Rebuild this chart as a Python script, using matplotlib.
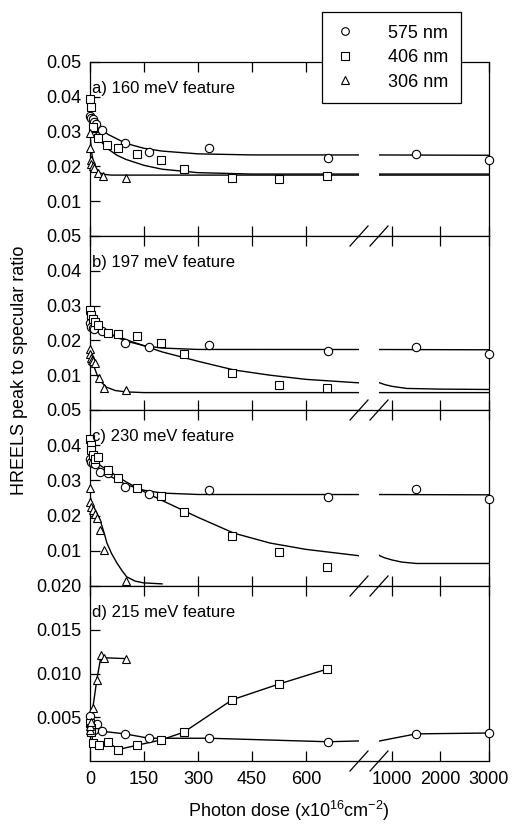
import matplotlib
matplotlib.use('Agg')
import matplotlib.pyplot as plt
from matplotlib.lines import Line2D
from matplotlib.ticker import FormatStrFormatter

plt.rcParams['font.family'] = ['Liberation Sans', 'DejaVu Sans']
plt.rcParams['mathtext.default'] = 'regular'

# ---------------- data ----------------
panel_titles = ['a) 160 meV feature', 'b) 197 meV feature',
                'c) 230 meV feature', 'd) 215 meV feature']
series_names = ['575 nm', '406 nm', '306 nm']
series_markers = ['o', 's', '^']

# a) 160 meV
a_575_x = [0, 4, 8, 12, 16, 33, 97, 164, 331, 661, 1495, 3000]
a_575_y = [0.0345, 0.0338, 0.0335, 0.0328, 0.0322, 0.0305, 0.0267, 0.0242, 0.0254, 0.0224, 0.0236, 0.0218]
a_406_x = [0, 2, 8, 22, 48, 77, 130, 197, 261, 395, 525, 658]
a_406_y = [0.0394, 0.0370, 0.0312, 0.0281, 0.0262, 0.0252, 0.0236, 0.0218, 0.0192, 0.0166, 0.0164, 0.0172]
a_306_x = [0, 1, 2, 4, 8, 12, 23, 37, 100]
a_306_y = [0.0296, 0.0253, 0.0218, 0.0208, 0.0200, 0.0195, 0.0180, 0.0172, 0.0166]
# fitted curves
a_575_fit_x = [0, 25, 50, 100, 150, 200, 300, 450, 3000]
a_575_fit_y = [0.0335, 0.0312, 0.0292, 0.0266, 0.0252, 0.0244, 0.0236, 0.0233, 0.0232]
a_406_fit_x = [0, 10, 25, 50, 75, 100, 150, 200, 300, 450, 3000]
a_406_fit_y = [0.0340, 0.0310, 0.0278, 0.0250, 0.0232, 0.0220, 0.0203, 0.0192, 0.0182, 0.0178, 0.0178]
a_306_fit_x = [0, 3, 6, 10, 15, 25, 40, 60, 3000]
a_306_fit_y = [0.0295, 0.0255, 0.0230, 0.0210, 0.0195, 0.0182, 0.0177, 0.0175, 0.0175]

# b) 197 meV
b_575_x = [0, 4, 8, 12, 33, 97, 164, 331, 661, 1495, 3000]
b_575_y = [0.0250, 0.0239, 0.0236, 0.0232, 0.0228, 0.0193, 0.0180, 0.0187, 0.0170, 0.0181, 0.0161]
b_406_x = [0, 3, 8, 14, 22, 50, 78, 130, 197, 261, 395, 525, 658]
b_406_y = [0.0286, 0.0274, 0.0262, 0.0253, 0.0244, 0.0222, 0.0218, 0.0213, 0.0193, 0.0161, 0.0107, 0.0072, 0.0063]
b_306_x = [0, 1, 2, 5, 8, 14, 25, 39, 100]
b_306_y = [0.0175, 0.0162, 0.0150, 0.0145, 0.0141, 0.0135, 0.0092, 0.0063, 0.0057]
b_575_fit_x = [0, 25, 50, 100, 150, 200, 300, 3000]
b_575_fit_y = [0.0243, 0.0232, 0.0220, 0.0198, 0.0185, 0.0178, 0.0174, 0.0173]
b_406_fit_x = [0, 30, 60, 120, 200, 300, 400, 500, 600, 747, 850, 1000, 1300, 2000, 3000]
b_406_fit_y = [0.0245, 0.0230, 0.0217, 0.0195, 0.0167, 0.0140, 0.0115, 0.0100, 0.0088, 0.0078,
               0.0073, 0.0068, 0.0062, 0.0060, 0.0059]
b_306_fit_x = [0, 5, 10, 20, 30, 45, 70, 100, 150, 3000]
b_306_fit_y = [0.0172, 0.0150, 0.0128, 0.0100, 0.0082, 0.0066, 0.0056, 0.0052, 0.0050, 0.0050]

# c) 230 meV
c_575_x = [0, 3, 8, 14, 28, 50, 97, 164, 331, 661, 1495, 3000]
c_575_y = [0.0360, 0.0352, 0.0350, 0.0346, 0.0324, 0.0320, 0.0282, 0.0262, 0.0273, 0.0253, 0.0276, 0.0247]
c_406_x = [0, 2, 4, 8, 14, 22, 50, 78, 130, 197, 261, 395, 525, 658]
c_406_y = [0.0418, 0.0400, 0.0386, 0.0372, 0.0360, 0.0366, 0.0330, 0.0307, 0.0278, 0.0256, 0.0210, 0.0142, 0.0097, 0.0054]
c_306_x = [0, 1, 4, 8, 14, 19, 28, 39, 100]
c_306_y = [0.0278, 0.0238, 0.0224, 0.0216, 0.0204, 0.0194, 0.0159, 0.0103, 0.0015]
c_575_fit_x = [0, 25, 50, 100, 150, 200, 300, 3000]
c_575_fit_y = [0.0355, 0.0335, 0.0315, 0.0288, 0.0272, 0.0264, 0.0260, 0.0259]
c_406_fit_x = [0, 50, 100, 150, 200, 300, 400, 500, 600, 747, 850, 1000, 1200, 1500, 3000]
c_406_fit_y = [0.0362, 0.0328, 0.0296, 0.0268, 0.0243, 0.0195, 0.0150, 0.0122, 0.0104, 0.0086,
               0.0080, 0.0074, 0.0068, 0.0064, 0.0064]
c_306_fit_x = [0, 5, 15, 28, 40, 47, 60, 75, 90, 102, 125, 148, 200]
c_306_fit_y = [0.0255, 0.0236, 0.0215, 0.0188, 0.0148, 0.0122, 0.0092, 0.0065, 0.0042, 0.0026,
               0.0014, 0.0009, 0.0006]

# d) 215 meV (points joined by lines, no fits)
d_575_x = [0, 3, 6, 12, 19, 33, 97, 164, 331, 661, 1495, 3000]
d_575_y = [0.0051, 0.0044, 0.0038, 0.0035, 0.0042, 0.0034, 0.0031, 0.0026, 0.0026, 0.0022, 0.0031, 0.0032]
d_406_x = [0, 2, 4, 8, 25, 50, 78, 130, 197, 261, 395, 525, 658]
d_406_y = [0.0043, 0.0038, 0.0033, 0.0021, 0.0018, 0.0022, 0.0013, 0.0018, 0.0024, 0.0033, 0.0070, 0.0088, 0.0105]
d_306_x = [0, 1, 3, 8, 19, 31, 39, 100]
d_306_y = [0.0035, 0.0040, 0.0045, 0.0061, 0.0093, 0.0121, 0.0118, 0.0117]

left_ticks = [0, 150, 300, 450, 600]
right_ticks = [1000, 2000, 3000]
yticks_abc = [0.01, 0.02, 0.03, 0.04, 0.05]
yticks_d = [0.005, 0.010, 0.015, 0.020]

panels = [
    ([(a_575_x, a_575_y), (a_406_x, a_406_y), (a_306_x, a_306_y)],
     [(a_575_fit_x, a_575_fit_y), (a_406_fit_x, a_406_fit_y), (a_306_fit_x, a_306_fit_y)]),
    ([(b_575_x, b_575_y), (b_406_x, b_406_y), (b_306_x, b_306_y)],
     [(b_575_fit_x, b_575_fit_y), (b_406_fit_x, b_406_fit_y), (b_306_fit_x, b_306_fit_y)]),
    ([(c_575_x, c_575_y), (c_406_x, c_406_y), (c_306_x, c_306_y)],
     [(c_575_fit_x, c_575_fit_y), (c_406_fit_x, c_406_fit_y), (c_306_fit_x, c_306_fit_y)]),
    ([(d_575_x, d_575_y), (d_406_x, d_406_y), (d_306_x, d_306_y)], None),
]

# ---------------- layout (pixels) ----------------
W, H = 512, 825
def fx(px):
    return px / W
def fy(py):
    return 1 - py / H

xl0, xl1 = 90, 359      # left (linear 0..747) segment
xr0, xr1 = 379, 489     # right (732..3000) segment
left_lim = (0, 747)
right_lim = (732, 3000)
rows = [62, 236, 410, 586, 761]
fs = 13
lw = 0.9

fig = plt.figure(figsize=(W / 100, H / 100), dpi=100)

for i, (pts, fits) in enumerate(panels):
    top, bot = rows[i], rows[i + 1]
    axL = fig.add_axes([fx(xl0), fy(bot), (xl1 - xl0) / W, (bot - top) / H])
    axR = fig.add_axes([fx(xr0), fy(bot), (xr1 - xr0) / W, (bot - top) / H])

    for ax, (lo, hi) in ((axL, left_lim), (axR, right_lim)):
        if fits is not None:
            for fx_, fy_ in fits:
                ax.plot(fx_, fy_, color='black', lw=1.0, zorder=2)
        for (x, y), m in zip(pts, series_markers):
            if fits is None:
                ax.plot(x, y, color='black', lw=1.0, zorder=2)
            # markers unclipped (like the original), only those inside this segment
            mx = [v for v in x if lo <= v <= hi]
            my = [w for v, w in zip(x, y) if lo <= v <= hi]
            ax.plot(mx, my, ls='none', marker=m, ms=6, mfc='white', mec='black',
                    mew=0.8, zorder=3, clip_on=False)
        for s in ax.spines.values():
            s.set_linewidth(lw)
        ax.tick_params(axis='both', direction='in', length=7, width=lw,
                       top=True, bottom=True, labelsize=fs)
        ax.tick_params(axis='x', pad=7, labelbottom=(i == 3))
        ax.set_xlim(lo, hi)

    axL.set_xticks(left_ticks)
    axR.set_xticks(right_ticks)
    axL.spines['right'].set_visible(False)
    axR.spines['left'].set_visible(False)
    axR.tick_params(axis='y', left=False, right=False, labelleft=False)
    axL.tick_params(axis='y', right=False, pad=6)

    if i < 3:
        axL.set_ylim(0, 0.05)
        axR.set_ylim(0, 0.05)
        axL.set_yticks(yticks_abc)
        axL.yaxis.set_major_formatter(FormatStrFormatter('%.2f'))
    else:
        axL.set_ylim(0, 0.020)
        axR.set_ylim(0, 0.020)
        axL.set_yticks(yticks_d)
        axL.yaxis.set_major_formatter(FormatStrFormatter('%.3f'))

    axL.text(0.008, 0.85, panel_titles[i], transform=axL.transAxes,
             fontsize=12, va='center', ha='left', zorder=4)

# horizontal spines run through the axis break, with // marks
for yb in rows:
    fig.add_artist(Line2D([fx(xl1), fx(xr0)], [fy(yb), fy(yb)], color='black', lw=lw))
    for xs in (xl1, xr0):
        fig.add_artist(Line2D([fx(xs - 9), fx(xs + 9)], [fy(yb + 10), fy(yb - 10)],
                              color='black', lw=lw))

fig.text(fx(20), fy(370), 'HREELS peak to specular ratio', rotation=90,
         ha='center', va='center', fontsize=fs)
fig.text(fx(289), fy(811), 'Photon dose (x10$^{16}$cm$^{-2}$)',
         ha='center', va='center', fontsize=fs)

handles = [Line2D([], [], ls='none', marker=m, ms=5.5, mfc='white', mec='black', mew=0.8)
           for m in series_markers]
leg = fig.legend(handles, series_names, loc='upper left',
                 bbox_to_anchor=(fx(322), fy(12)), fontsize=fs, frameon=True,
                 fancybox=False, edgecolor='black', framealpha=1,
                 borderpad=0.7, labelspacing=0.42, handletextpad=1.75,
                 handlelength=1.2, borderaxespad=0)
leg.get_frame().set_linewidth(lw)

fig.savefig('out.png', dpi=100)
